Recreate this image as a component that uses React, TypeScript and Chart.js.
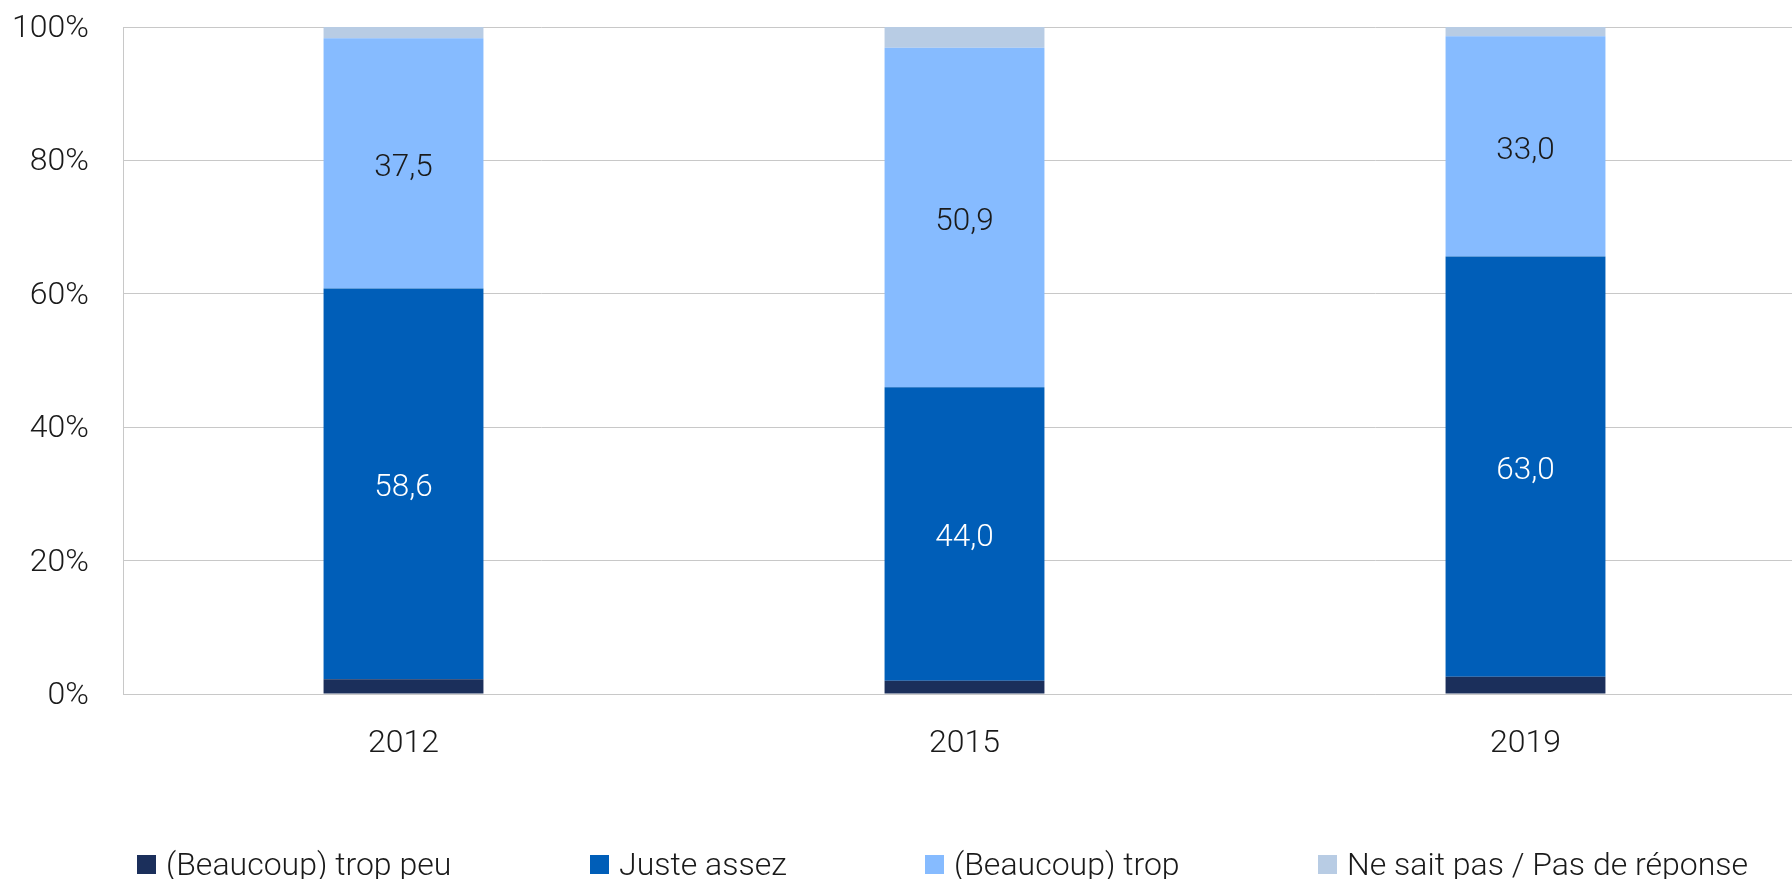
import React, { useEffect, useRef } from "react";
import { Chart, registerables } from "chart.js";

Chart.register(...registerables);

const categories = ["2012", "2015", "2019"];
const seriesNames = [
  "(Beaucoup) trop peu",
  "Juste assez",
  "(Beaucoup) trop",
  "Ne sait pas / Pas de réponse",
];
const tropPeu = [2.2, 2.0, 2.6];
const justeAssez = [58.6, 44.0, 63.0];
const trop = [37.5, 50.9, 33.0];
const nsp = [1.7, 3.1, 1.4];
const colors = ["#1B2F5B", "#005EB8", "#86BBFF", "#B8CCE4"];
const labelColors = [null, "#FFFFFF", "#1A1A1A", null];
const yTicks = [0, 20, 40, 60, 80, 100];
const legendLeft = [137, 590, 925, 1318];
// plot area continues past the right edge of the picture (clipped)
const plotOverflowRight = 14;

const FONT = "Roboto, 'Noto Sans', sans-serif";

const dataLabelPlugin = {
  id: "dataLabelPlugin",
  afterDatasetsDraw(chart: any) {
    const ctx = chart.ctx;
    ctx.save();
    ctx.font = `300 31.5px ${FONT}`;
    ctx.textAlign = "center";
    ctx.textBaseline = "middle";
    chart.data.datasets.forEach((ds: any, di: number) => {
      const col = labelColors[di];
      if (!col) return;
      const meta = chart.getDatasetMeta(di);
      meta.data.forEach((bar: any, i: number) => {
        const v = ds.data[i];
        const p = bar.getProps(["x", "y", "base"], true);
        ctx.fillStyle = col;
        ctx.fillText(v.toFixed(1).replace(".", ","), p.x, (p.y + p.base) / 2 + 4.5);
      });
    });
    ctx.restore();
  },
};

const extendPlotPlugin = {
  id: "extendPlotPlugin",
  afterLayout(chart: any) {
    const xs = chart.scales.x;
    xs.right += plotOverflowRight;
    xs.width += plotOverflowRight;
    xs.configure();
    chart.chartArea.right += plotOverflowRight;
    chart.chartArea.width += plotOverflowRight;
  },
};

export default function App() {
  const ref = useRef<HTMLCanvasElement | null>(null);
  useEffect(() => {
    if (!ref.current) return;
    const seriesData = [tropPeu, justeAssez, trop, nsp];
    const chart = new Chart(ref.current, {
      type: "bar",
      data: {
        labels: categories,
        datasets: seriesNames.map((name, i) => ({
          label: name,
          data: seriesData[i],
          backgroundColor: colors[i],
          borderWidth: 0,
          barPercentage: 0.285,
          categoryPercentage: 1,
        })),
      },
      options: {
        animation: false,
        responsive: false,
        maintainAspectRatio: false,
        layout: { padding: { top: 27, right: 0, bottom: 0, left: 0 } },
        plugins: {
          legend: { display: false },
          tooltip: { enabled: false },
        },
        scales: {
          x: {
            stacked: true,
            grid: { display: false, drawTicks: false },
            border: { display: true, color: "#C8C8C8", width: 1 },
            ticks: {
              padding: 31,
              color: "#1A1A1A",
              font: { family: FONT, size: 32, weight: "300" },
            },
            afterFit: (s: any) => {
              s.height = 185;
            },
          },
          y: {
            stacked: true,
            min: 0,
            max: 100,
            afterBuildTicks: (s: any) => {
              s.ticks = yTicks.map((v) => ({ value: v }));
            },
            grid: { color: "#C8C8C8", lineWidth: 1, drawTicks: false },
            border: { display: true, color: "#C8C8C8", width: 1 },
            ticks: {
              padding: 34,
              labelOffset: 2,
              color: "#1A1A1A",
              font: { family: FONT, size: 32, weight: "300" },
              callback: (v: any) => `${v}%`,
            },
            afterFit: (s: any) => {
              s.width = 123;
              s.paddingTop = 0;
              s.paddingBottom = 0;
            },
          },
        },
      },
      plugins: [extendPlotPlugin, dataLabelPlugin],
    });
    return () => chart.destroy();
  }, []);

  return (
    <div
      style={{
        position: "fixed",
        left: 0,
        top: 0,
        width: 1792,
        height: 879,
        background: "#FFFFFF",
        overflow: "hidden",
      }}
    >
      <canvas ref={ref} width={1792} height={879} style={{ display: "block" }} />
      {seriesNames.map((name, i) => (
        <div
          key={name}
          style={{
            position: "absolute",
            left: legendLeft[i],
            top: 844,
            height: 40,
            display: "flex",
            alignItems: "center",
            fontFamily: FONT,
            fontWeight: 300,
            fontSize: 32,
            color: "#1A1A1A",
            whiteSpace: "nowrap",
          }}
        >
          <span
            style={{
              display: "inline-block",
              width: 19,
              height: 19,
              background: colors[i],
              marginRight: 10,
              flex: "none",
            }}
          />
          <span>{name}</span>
        </div>
      ))}
    </div>
  );
}
